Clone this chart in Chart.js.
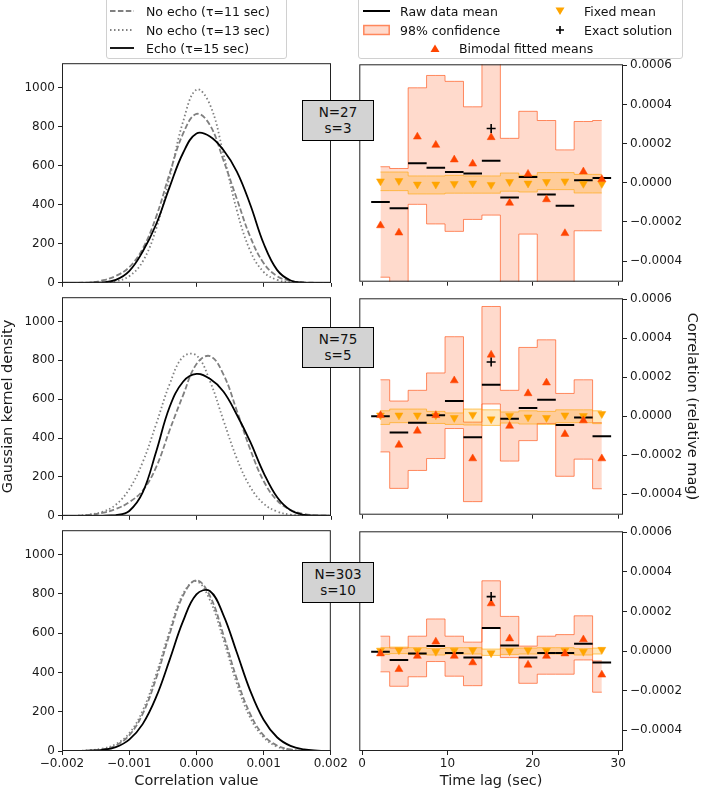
<!DOCTYPE html>
<html>
<head>
<meta charset="utf-8">
<script src="https://cdn.jsdelivr.net/npm/chart.js@4.4.0/dist/chart.umd.min.js"></script>
<style>
  body { margin: 0; width: 706px; height: 791px; position: relative; background: #fff; overflow: hidden;
         font-family: "DejaVu Sans", sans-serif; color: #111; }
  canvas { position: absolute; }
  .lgbox { position: absolute; top: -6px; height: 65px; border: 1px solid #d0d0d0; border-radius: 3px;
           background: rgba(255,255,255,0.8); box-sizing: border-box; z-index: 4; }
  .lgitem { position: absolute; height: 16px; display: flex; align-items: center; font-size: 12.5px;
            white-space: nowrap; z-index: 5; }
  .lgitem svg { display: block; }
  .nbox { position: absolute; left: 302px; width: 72px; height: 41px; background: #d3d3d3;
          border: 1.5px solid #000; box-sizing: border-box; text-align: center; font-size: 13.5px;
          line-height: 16px; padding-top: 3px; z-index: 6; }
</style>
</head>
<body>

<canvas id="kde1" style="left:0;top:53px" width="350" height="240"></canvas>
<canvas id="kde2" style="left:0;top:287px" width="350" height="239"></canvas>
<canvas id="kde3" style="left:0;top:520px" width="350" height="271"></canvas>
<canvas id="lag1" style="left:348px;top:53px" width="352" height="240"></canvas>
<canvas id="lag2" style="left:348px;top:287px" width="352" height="239"></canvas>
<canvas id="lag3" style="left:348px;top:520px" width="352" height="271"></canvas>

<!-- left legend -->
<div class="lgbox" style="left:106px;width:181px"></div>
<div class="lgitem" style="left:110px;top:3px">
  <svg width="24" height="16"><line x1="0" y1="8" x2="24" y2="8" stroke="#808080" stroke-width="1.8" stroke-dasharray="5.5 2.4"/></svg>
  <span style="margin-left:12px">No echo (τ=11 sec)</span></div>
<div class="lgitem" style="left:110px;top:22px">
  <svg width="24" height="16"><line x1="0" y1="8" x2="24" y2="8" stroke="#808080" stroke-width="1.8" stroke-dasharray="1.5 2.5"/></svg>
  <span style="margin-left:12px">No echo (τ=13 sec)</span></div>
<div class="lgitem" style="left:110px;top:40px">
  <svg width="24" height="16"><line x1="0" y1="8" x2="24" y2="8" stroke="#000" stroke-width="1.8"/></svg>
  <span style="margin-left:12px">Echo (τ=15 sec)</span></div>

<!-- right legend -->
<div class="lgbox" style="left:358px;width:325px"></div>
<div class="lgitem" style="left:363px;top:3px">
  <svg width="27" height="16"><line x1="0" y1="8" x2="27" y2="8" stroke="#000" stroke-width="2"/></svg>
  <span style="margin-left:10px">Raw data mean</span></div>
<div class="lgitem" style="left:363px;top:22px">
  <svg width="27" height="16"><rect x="0.75" y="3.5" width="25.5" height="9" fill="rgba(255,69,0,0.2)" stroke="rgba(255,69,0,0.6)" stroke-width="1.5"/></svg>
  <span style="margin-left:10px">98% confidence</span></div>
<div class="lgitem" style="left:552px;top:3px">
  <svg width="16" height="16"><polygon points="3.5,4.5 12.5,4.5 8,12" fill="#FFA500"/></svg>
  <span style="margin-left:16px">Fixed mean</span></div>
<div class="lgitem" style="left:552px;top:22px">
  <svg width="16" height="16"><path d="M8 4 V12 M4 8 H12" stroke="#000" stroke-width="1.6"/></svg>
  <span style="margin-left:16px">Exact solution</span></div>
<div class="lgitem" style="left:427px;top:40px">
  <svg width="16" height="16"><polygon points="3.5,12 12.5,12 8,4.5" fill="#FF4500"/></svg>
  <span style="margin-left:16px">Bimodal fitted means</span></div>

<div class="nbox" style="top:100px">N=27<br>s=3</div>
<div class="nbox" style="top:327px">N=75<br>s=5</div>
<div class="nbox" style="top:562px">N=303<br>s=10</div>

<script>
// ---- left column: Gaussian kernel density vs correlation value ----
const CORR = [-0.002, -0.0018, -0.0016, -0.0014, -0.0012, -0.001, -0.0008, -0.0006, -0.0004, -0.0002, 0,
              0.0002, 0.0004, 0.0006, 0.0008, 0.001, 0.0012, 0.0014, 0.0016, 0.0018, 0.002];

// N=27, s=3
const KDE1_TAU11 = [0, 0, 1, 12, 35, 80, 175, 338, 559, 764, 865, 808, 628, 430, 235, 100, 34, 10, 2, 0, 0];
const KDE1_TAU13 = [0, 0, 0, 2, 8, 34, 109, 276, 540, 825, 990, 913, 661, 371, 163, 55, 15, 3, 0, 0, 0];
const KDE1_ECHO  = [0, 0, 0, 2, 15, 60, 160, 300, 490, 665, 765, 750, 680, 570, 400, 200, 65, 12, 1, 0, 0];
// N=75, s=5
const KDE2_TAU11 = [0, 0, 5, 15, 35, 70, 130, 250, 440, 620, 781, 822, 728, 541, 341, 178, 78, 30, 9, 2, 0];
const KDE2_TAU13 = [0, 0, 6, 20, 57, 137, 276, 472, 677, 818, 825, 693, 492, 295, 148, 62, 22, 6, 1, 0, 0];
const KDE2_ECHO  = [0, 0, 0, 0, 3, 25, 120, 330, 560, 690, 730, 705, 640, 520, 380, 220, 95, 28, 5, 1, 0];
// N=303, s=10
const KDE3_TAU11 = [0, 0, 2, 8, 28, 80, 189, 369, 594, 791, 870, 791, 594, 369, 189, 80, 28, 8, 2, 0, 0];
const KDE3_TAU13 = [0, 0, 4, 12, 35, 90, 205, 390, 610, 800, 865, 770, 570, 345, 170, 70, 22, 6, 1, 0, 0];
const KDE3_ECHO  = [0, 0, 2, 6, 20, 58, 137, 274, 463, 660, 798, 815, 694, 503, 308, 159, 70, 26, 8, 2, 0];

// ---- right column: correlation vs time lag ----
const LAGS = [2.16, 4.32, 6.48, 8.64, 10.8, 12.96, 15.12, 17.28, 19.44, 21.6, 23.76, 25.92, 28.08];
const EXACT_LAG = [15.12];

// N=27
const MEAN1    = [-0.98e-4, -1.30e-4, 1.00e-4, 0.77e-4, 0.55e-4, 0.47e-4, 1.12e-4, -0.75e-4, 0.30e-4, -0.60e-4, -1.17e-4, 0.13e-4, 0.25e-4];
const FIXED1   = [0.08e-4, 0.10e-4, -0.08e-4, -0.08e-4, -0.05e-4, -0.03e-4, -0.10e-4, 0.05e-4, -0.03e-4, 0.05e-4, 0.08e-4, -0.05e-4, -0.05e-4];
const BIMODAL1 = [-2.18e-4, -2.55e-4, 2.35e-4, 1.93e-4, 1.18e-4, 0.97e-4, 2.32e-4, -1.03e-4, 0.45e-4, -0.85e-4, -2.58e-4, 0.57e-4, 0.18e-4];
const CONF_HI1 = [0.82e-4, 0.73e-4, 4.85e-4, 5.48e-4, 5.18e-4, 3.88e-4, 7.0e-4, 2.27e-4, 3.65e-4, 3.18e-4, 1.68e-4, 3.13e-4, 3.18e-4];
const CONF_LO1 = [-4.82e-4, -6.0e-4, -1.10e-4, -2.10e-4, -2.48e-4, -1.87e-4, -1.65e-4, -6.0e-4, -2.62e-4, -6.0e-4, -6.0e-4, -2.45e-4, -2.45e-4];
const BAND_HI1 = [0.55e-4, 0.55e-4, 0.35e-4, 0.35e-4, 0.38e-4, 0.35e-4, 0.35e-4, 0.50e-4, 0.38e-4, 0.52e-4, 0.52e-4, 0.43e-4, 0.43e-4];
const BAND_LO1 = [-0.40e-4, -0.40e-4, -0.57e-4, -0.57e-4, -0.53e-4, -0.53e-4, -0.53e-4, -0.43e-4, -0.47e-4, -0.35e-4, -0.35e-4, -0.52e-4, -0.52e-4];
const EXACT1   = [2.77e-4];
// N=75
const MEAN2    = [0.0, -0.83e-4, -0.33e-4, 0.05e-4, 0.78e-4, -1.08e-4, 1.62e-4, -0.13e-4, 0.42e-4, 0.85e-4, -0.45e-4, -0.07e-4, -1.02e-4];
const FIXED2   = [0.05e-4, 0.05e-4, 0.05e-4, 0.05e-4, -0.08e-4, 0.08e-4, -0.15e-4, 0.02e-4, -0.05e-4, -0.08e-4, 0.05e-4, 0.02e-4, 0.12e-4];
const BIMODAL2 = [0.05e-4, -1.47e-4, -0.75e-4, 0.05e-4, 1.83e-4, -2.17e-4, 3.15e-4, -0.50e-4, 1.17e-4, 1.72e-4, -0.92e-4, -0.22e-4, -2.17e-4];
const CONF_HI2 = [1.87e-4, 0.78e-4, 1.33e-4, 2.22e-4, 4.08e-4, -0.30e-4, 5.63e-4, 1.33e-4, 3.53e-4, 3.92e-4, 1.17e-4, 1.87e-4, -0.33e-4];
const CONF_LO2 = [-1.83e-4, -3.70e-4, -2.78e-4, -2.17e-4, -0.63e-4, -4.38e-4, 0.63e-4, -2.30e-4, -1.25e-4, -0.37e-4, -3.08e-4, -2.20e-4, -3.72e-4];
const BAND_HI2 = [0.28e-4, 0.37e-4, 0.37e-4, 0.25e-4, 0.17e-4, 0.37e-4, 0.33e-4, 0.22e-4, 0.28e-4, 0.25e-4, 0.33e-4, 0.33e-4, 0.28e-4];
const BAND_LO2 = [-0.42e-4, -0.33e-4, -0.33e-4, -0.37e-4, -0.42e-4, -0.45e-4, -0.47e-4, -0.35e-4, -0.40e-4, -0.42e-4, -0.33e-4, -0.33e-4, -0.38e-4];
const EXACT2   = [2.78e-4];
// N=303
const MEAN3    = [-0.03e-4, -0.45e-4, -0.13e-4, 0.25e-4, -0.10e-4, -0.32e-4, 1.17e-4, 0.28e-4, -0.33e-4, -0.10e-4, -0.10e-4, 0.37e-4, -0.58e-4];
const FIXED3   = [0.03e-4, 0.05e-4, 0.03e-4, -0.03e-4, 0.03e-4, 0.05e-4, -0.10e-4, 0.0, 0.05e-4, 0.03e-4, 0.03e-4, -0.03e-4, 0.07e-4];
const BIMODAL3 = [-0.13e-4, -0.92e-4, -0.25e-4, 0.47e-4, -0.25e-4, -0.58e-4, 2.40e-4, 0.63e-4, -0.70e-4, -0.25e-4, -0.13e-4, 0.58e-4, -1.20e-4];
const CONF_HI3 = [0.75e-4, 0.15e-4, 0.75e-4, 1.62e-4, 0.75e-4, 0.45e-4, 3.55e-4, 1.75e-4, 0.25e-4, 0.75e-4, 0.83e-4, 1.78e-4, -0.50e-4];
const CONF_LO3 = [-1.05e-4, -1.78e-4, -1.30e-4, -0.53e-4, -1.27e-4, -1.75e-4, 1.17e-4, -0.33e-4, -1.63e-4, -1.17e-4, -1.17e-4, -0.45e-4, -2.08e-4];
const BAND_HI3 = [0.17e-4, 0.20e-4, 0.17e-4, 0.13e-4, 0.17e-4, 0.17e-4, 0.10e-4, 0.15e-4, 0.15e-4, 0.17e-4, 0.17e-4, 0.12e-4, 0.15e-4];
const BAND_LO3 = [-0.17e-4, -0.13e-4, -0.17e-4, -0.20e-4, -0.15e-4, -0.15e-4, -0.22e-4, -0.17e-4, -0.15e-4, -0.15e-4, -0.15e-4, -0.20e-4, -0.15e-4];
const EXACT3   = [2.75e-4];

// colours
const CONF_FILL = 'rgba(255, 69, 0, 0.2)';
const CONF_EDGE = 'rgba(255, 69, 0, 0.6)';
const BAND_FILL = 'rgba(255, 165, 0, 0.25)';
const BAND_EDGE = 'rgba(255, 165, 0, 0.6)';
const SPINE = '#222';
const TITLE_FONT = { size: 14.5 };

Chart.defaults.font.family = '"DejaVu Sans", sans-serif';
Chart.defaults.font.size = 12;
Chart.defaults.color = '#1a1a1a';

const pts = (xs, ys) => xs.map((x, i) => ({x: x, y: ys[i]}));
const minus = s => s.replace('-', '\u2212');

// draw all four spines round the plot area
const framePlugin = {
    id: 'frame',
    afterDatasetsDraw(chart) {
        const {ctx, chartArea: a} = chart;
        ctx.save();
        ctx.strokeStyle = SPINE;
        ctx.lineWidth = 1;
        ctx.strokeRect(a.left + 0.5, a.top + 0.5, a.right - a.left - 1, a.bottom - a.top - 1);
        ctx.restore();
    }
};

function axisGrid() {
    return { drawOnChartArea: false, drawTicks: true, tickLength: 4, tickColor: SPINE, color: SPINE };
}

function kdeChart(id, tau11, tau13, echo, row) {
    const bottom = row === 3;
    return new Chart(document.getElementById(id), {
        type: 'line',
        data: {
            datasets: [
                { data: pts(CORR, echo), borderColor: '#000', borderWidth: 1.8, order: 1 },
                { data: pts(CORR, tau11), borderColor: '#808080', borderWidth: 1.8, borderDash: [5.5, 2.4], order: 2 },
                { data: pts(CORR, tau13), borderColor: '#808080', borderWidth: 1.8, borderDash: [1.5, 2.5], order: 3 }
            ]
        },
        options: {
            responsive: false,
            animation: false,
            events: [],
            layout: { padding: { left: 0, right: 19, top: 10, bottom: 0 } },
            elements: { point: { radius: 0 }, line: { tension: 0.4, fill: false } },
            plugins: { legend: { display: false }, tooltip: { enabled: false } },
            scales: {
                x: {
                    type: 'linear', min: -0.002, max: 0.002,
                    grid: axisGrid(), border: { display: false },
                    ticks: { display: bottom, stepSize: 0.001, includeBounds: false, padding: 2,
                             callback: v => minus(v.toFixed(3)) },
                    title: { display: bottom, text: 'Correlation value', font: TITLE_FONT, padding: { top: 0, bottom: 1 } },
                    afterFit: s => { s.height = bottom ? 40 : 8; }
                },
                y: {
                    min: 0, max: 1125,
                    grid: axisGrid(), border: { display: false },
                    ticks: { stepSize: 200, includeBounds: false, padding: 3, callback: v => String(v) },
                    title: { display: row === 2, text: 'Gaussian kernel density', font: TITLE_FONT, padding: { top: 0, bottom: 0 } },
                    afterFit: s => { s.width = 62; }
                }
            }
        },
        plugins: [framePlugin]
    });
}

function lagChart(id, d, row) {
    const bottom = row === 3;
    return new Chart(document.getElementById(id), {
        type: 'line',
        data: {
            datasets: [
                { data: pts(LAGS, d.confHi), fill: '+1', backgroundColor: CONF_FILL, borderColor: CONF_EDGE,
                  borderWidth: 1, stepped: 'middle', pointRadius: 0, order: 8 },
                { data: pts(LAGS, d.confLo), fill: false, borderColor: CONF_EDGE,
                  borderWidth: 1, stepped: 'middle', pointRadius: 0, order: 7 },
                { data: pts(LAGS, d.bandHi), fill: '+1', backgroundColor: BAND_FILL, borderColor: BAND_EDGE,
                  borderWidth: 1, stepped: 'middle', pointRadius: 0, order: 6 },
                { data: pts(LAGS, d.bandLo), fill: false, borderColor: BAND_EDGE,
                  borderWidth: 1, stepped: 'middle', pointRadius: 0, order: 5 },
                { data: pts(LAGS, d.mean), showLine: false, pointStyle: 'line', pointRadius: 9.3,
                  pointBorderWidth: 2, pointBorderColor: '#000', order: 4 },
                { data: pts(LAGS, d.fixed), showLine: false, pointStyle: 'triangle', pointRotation: 180,
                  pointRadius: 4.6, pointBackgroundColor: '#FFA500', pointBorderColor: '#FFA500', pointBorderWidth: 0.5, order: 3 },
                { data: pts(LAGS, d.bimodal), showLine: false, pointStyle: 'triangle',
                  pointRadius: 4.6, pointBackgroundColor: '#FF4500', pointBorderColor: '#FF4500', pointBorderWidth: 0.5, order: 2 },
                { data: pts(EXACT_LAG, d.exact), showLine: false, pointStyle: 'cross',
                  pointRadius: 4.5, pointBorderWidth: 1.6, pointBorderColor: '#000', order: 1 }
            ]
        },
        options: {
            responsive: false,
            animation: false,
            events: [],
            layout: { padding: { left: 10, right: 0, top: 10, bottom: 0 } },
            plugins: { legend: { display: false }, tooltip: { enabled: false } },
            scales: {
                x: {
                    type: 'linear', min: -0.32, max: 30.56,
                    grid: axisGrid(), border: { display: false },
                    ticks: { display: bottom, stepSize: 10, includeBounds: false, padding: 2 },
                    title: { display: bottom, text: 'Time lag (sec)', font: TITLE_FONT, padding: { top: 0, bottom: 1 } },
                    afterFit: s => { s.height = bottom ? 40 : 8; }
                },
                y: {
                    position: 'right', min: -0.000505, max: 0.000605,
                    grid: axisGrid(), border: { display: false },
                    ticks: { stepSize: 0.0002, includeBounds: false, padding: 3,
                             callback: v => minus((Math.abs(v) < 1e-12 ? 0 : v).toFixed(4)) },
                    title: { display: row === 2, text: 'Correlation (relative mag)', font: TITLE_FONT, padding: { top: 0, bottom: 0 } },
                    afterFit: s => { s.width = 77; }
                }
            }
        },
        plugins: [framePlugin]
    });
}

kdeChart('kde1', KDE1_TAU11, KDE1_TAU13, KDE1_ECHO, 1);
kdeChart('kde2', KDE2_TAU11, KDE2_TAU13, KDE2_ECHO, 2);
kdeChart('kde3', KDE3_TAU11, KDE3_TAU13, KDE3_ECHO, 3);

lagChart('lag1', { mean: MEAN1, fixed: FIXED1, bimodal: BIMODAL1, confHi: CONF_HI1, confLo: CONF_LO1,
                   bandHi: BAND_HI1, bandLo: BAND_LO1, exact: EXACT1 }, 1);
lagChart('lag2', { mean: MEAN2, fixed: FIXED2, bimodal: BIMODAL2, confHi: CONF_HI2, confLo: CONF_LO2,
                   bandHi: BAND_HI2, bandLo: BAND_LO2, exact: EXACT2 }, 2);
lagChart('lag3', { mean: MEAN3, fixed: FIXED3, bimodal: BIMODAL3, confHi: CONF_HI3, confLo: CONF_LO3,
                   bandHi: BAND_HI3, bandLo: BAND_LO3, exact: EXACT3 }, 3);
</script>
</body>
</html>
